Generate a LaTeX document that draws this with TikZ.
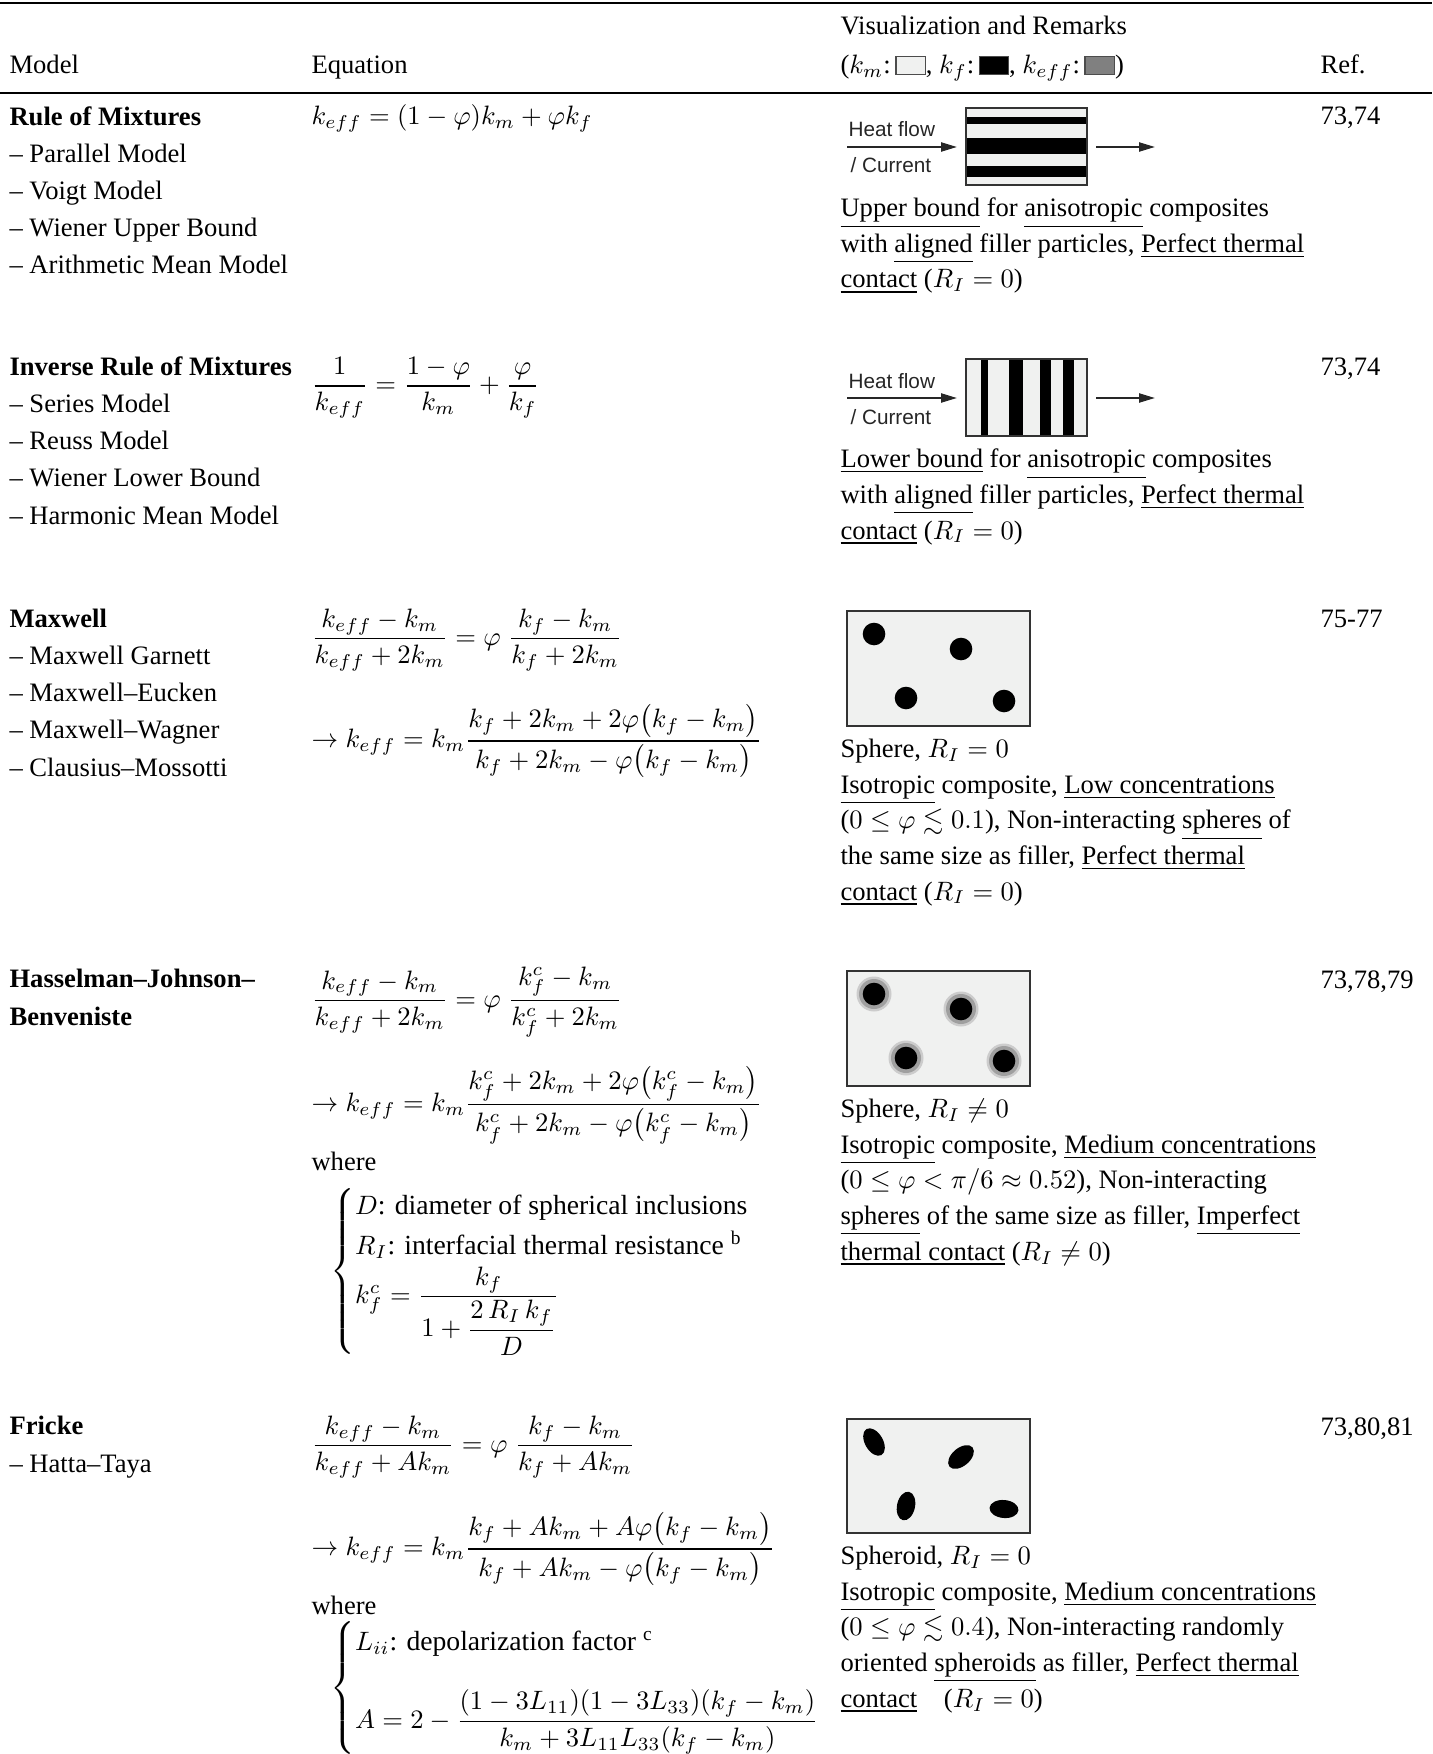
\documentclass[tikz,border=0pt]{standalone}
\usepackage{amsmath}
\usepackage{amssymb}
\usepackage{fontspec}
\setmainfont{Liberation Serif}
\setsansfont{Liberation Sans}
\usepackage{xcolor}
\usetikzlibrary{arrows.meta,positioning}
\definecolor{matrixgray}{HTML}{F0F1F0}
\definecolor{effgray}{HTML}{808080}
\definecolor{framegray}{HTML}{333333}
\newcommand{\keybox}[1]{{\setlength{\fboxsep}{0pt}\setlength{\fboxrule}{0.5pt}\fcolorbox{black!70}{#1}{\rule{0pt}{6.4pt}\rule{10.5pt}{0pt}}}}

\begin{document}
\begin{tikzpicture}[x=0.376pt,y=-0.376pt,
  txt/.style={anchor=base west,inner sep=0pt,font=\fontsize{10}{14}\selectfont},
  modeltxt/.style={txt,align=left},
  remtxt/.style={anchor=base west,inner sep=0pt,align=left,font=\fontsize{10}{13.4}\selectfont},
  eqline/.style={anchor=base west,inner sep=0pt,font=\fontsize{10.4}{12.5}\selectfont},
  eqn/.style={anchor=west,inner sep=0pt,font=\fontsize{10.4}{12.5}\selectfont},
  flowtxt/.style={anchor=base west,inner sep=0pt,font=\sffamily\fontsize{7.8}{9}\selectfont,text=black!85},
  flow/.style={line width=0.75pt,black!85,-{Triangle[length=6pt,width=3.4pt]}},
  matrixbox/.style={fill=matrixgray,draw=framegray,line width=0.6pt},
  tablerule/.style={line width=1.1pt}]
\useasboundingbox (0,0) rectangle (1432,1754);

% Tabellenlinien und Kopfzeile
\draw[tablerule] (0,3) -- (1432,3);
\draw[tablerule] (0,93) -- (1432,93);
\node[txt] (hmodel) at (9,74) {Model};
\node[txt] (heq) at (311,74) {Equation};
\node[txt] (hvis) at (840,35) {Visualization and Remarks};
\node[txt] (hkey) at (840,74) {($k_m$:\,\keybox{matrixgray},\ $k_f$:\,\keybox{black},\ $k_{eff}$:\,\keybox{effgray})};
\node[txt] (href) at (1320,74) {Ref.};

% Rule of Mixtures (mehrzeilige Knoten: base = letzte Zeile)
\node[modeltxt] (rom) at (9,274) {\textbf{Rule of Mixtures}\\-- Parallel Model\\-- Voigt Model\\-- Wiener Upper Bound\\-- Arithmetic Mean Model};
\node[eqline] (eqrom) at (311,125) {$k_{eff} = (1-\varphi)k_m + \varphi k_f$};
\draw[matrixbox] (966,108) rectangle (1087,185);
\foreach \ya/\yb in {117/124,138/154,166/177}
  \fill[black] (966,\ya) rectangle (1087,\yb);
\draw[framegray,line width=0.6pt] (966,108) rectangle (1087,185);
\node[flowtxt] (hfa) at (848,137) {Heat flow};
\node[flowtxt] (cura) at (850,173) {/ Current};
\coordinate (ina) at (847,147);
\coordinate (inaend) at (957,147);
\coordinate (outa) at (1096,147);
\coordinate (outaend) at (1155,147);
\draw[flow] (ina) -- (inaend);
\draw[flow] (outa) -- (outaend);
\node[remtxt] (remrom) at (840,288) {\underline{Upper bound} for \underline{anisotropic} composites\\with \underline{aligned} filler particles, \underline{Perfect thermal}\\\underline{contact} ($R_I = 0$)};
\node[txt] (refrom) at (1320,125) {73,74};

% Inverse Rule of Mixtures
\node[modeltxt] (irom) at (9,524) {\textbf{Inverse Rule of Mixtures}\\-- Series Model\\-- Reuss Model\\-- Wiener Lower Bound\\-- Harmonic Mean Model};
\node[eqn] (eqirom) at (311,388) {$\dfrac{1}{k_{eff}} = \dfrac{1-\varphi}{k_m} + \dfrac{\varphi}{k_f}$};
\draw[matrixbox] (966,359) rectangle (1087,436);
\foreach \xa/\xb in {981/988,1009/1023,1040/1051,1063/1074}
  \fill[black] (\xa,359) rectangle (\xb,436);
\draw[framegray,line width=0.6pt] (966,359) rectangle (1087,436);
\node[flowtxt] (hfb) at (848,388) {Heat flow};
\node[flowtxt] (curb) at (850,424) {/ Current};
\coordinate (inb) at (847,398);
\coordinate (inbend) at (957,398);
\coordinate (outb) at (1096,398);
\coordinate (outbend) at (1155,398);
\draw[flow] (inb) -- (inbend);
\draw[flow] (outb) -- (outbend);
\node[remtxt] (remirom) at (840,539) {\underline{Lower bound} for \underline{anisotropic} composites\\with \underline{aligned} filler particles, \underline{Perfect thermal}\\\underline{contact} ($R_I = 0$)};
\node[txt] (refirom) at (1320,375) {73,74};

% Maxwell
\node[modeltxt] (mw) at (9,776) {\textbf{Maxwell}\\-- Maxwell Garnett\\-- Maxwell--Eucken\\-- Maxwell--Wagner\\-- Clausius--Mossotti};
\node[eqn] (eqmwa) at (311,640) {$\dfrac{k_{eff}-k_m}{k_{eff}+2k_m} = \varphi\;\dfrac{k_f-k_m}{k_f+2k_m}$};
\node[eqn] (eqmwb) at (311,741) {$\rightarrow k_{eff} = k_m\dfrac{k_f+2k_m+2\varphi\bigl(k_f-k_m\bigr)}{k_f+2k_m-\varphi\bigl(k_f-k_m\bigr)}$};
\draw[matrixbox] (847,611) rectangle (1030,726);
\foreach \cx/\cy in {874/634,961/649,906/698,1004/701}
  \fill[black] (\cx,\cy) circle[radius=11.3];
\node[remtxt] (remmw) at (840,900) {Sphere, $R_I = 0$\\\underline{Isotropic} composite, \underline{Low concentrations}\\($0 \le \varphi \lesssim 0.1$), Non-interacting \underline{spheres} of\\the same size as filler, \underline{Perfect thermal}\\\underline{contact} ($R_I = 0$)};
\node[txt] (refmw) at (1320,627) {75-77};

% Hasselman-Johnson-Benveniste
\node[modeltxt] (hjb) at (9,1025) {\textbf{Hasselman--Johnson--}\\\textbf{Benveniste}};
\node[eqn] (eqhjba) at (311,1002) {$\dfrac{k_{eff}-k_m}{k_{eff}+2k_m} = \varphi\;\dfrac{k_f^c-k_m}{k_f^c+2k_m}$};
\node[eqn] (eqhjbb) at (311,1105) {$\rightarrow k_{eff} = k_m\dfrac{k_f^c+2k_m+2\varphi\bigl(k_f^c-k_m\bigr)}{k_f^c+2k_m-\varphi\bigl(k_f^c-k_m\bigr)}$};
\node[txt] (wherehjb) at (311,1170) {where};
\node[eqn] (caseshjb) at (330,1271) {$\begin{cases} D\text{: diameter of spherical inclusions}\\ R_I\text{: interfacial thermal resistance}\ ^{\mathrm{b}}\\ k_f^c = \dfrac{k_f}{1+\dfrac{2\,R_I\,k_f}{D}}\end{cases}$};
\draw[matrixbox] (847,971) rectangle (1030,1086);
\foreach \cx/\cy in {874/994,961/1009,906/1058,1004/1061}{
  \fill[gray!40] (\cx,\cy) circle[radius=17.5];
  \fill[gray!75] (\cx,\cy) circle[radius=15];
  \fill[black] (\cx,\cy) circle[radius=11.3];
}
\node[remtxt] (remhjb) at (840,1260) {Sphere, $R_I \neq 0$\\\underline{Isotropic} composite, \underline{Medium concentrations}\\($0 \le \varphi < \pi/6 \approx 0.52$), Non-interacting\\\underline{spheres} of the same size as filler, \underline{Imperfect}\\\underline{thermal contact} ($R_I \neq 0$)};
\node[txt] (refhjb) at (1320,988) {73,78,79};

% Fricke
\node[modeltxt] (fr) at (9,1472) {\textbf{Fricke}\\-- Hatta--Taya};
\node[eqn] (eqfra) at (311,1447) {$\dfrac{k_{eff}-k_m}{k_{eff}+Ak_m} = \varphi\;\dfrac{k_f-k_m}{k_f+Ak_m}$};
\node[eqn] (eqfrb) at (311,1549) {$\rightarrow k_{eff} = k_m\dfrac{k_f+Ak_m+A\varphi\bigl(k_f-k_m\bigr)}{k_f+Ak_m-\varphi\bigl(k_f-k_m\bigr)}$};
\node[txt] (wherefr) at (311,1614) {where};
\node[eqn] (casesfr) at (330,1688) {$\begin{cases} L_{ii}\text{: depolarization factor}\ ^{\mathrm{c}}\\[2.2ex] A = 2 - \dfrac{(1-3L_{11})(1-3L_{33})(k_f-k_m)}{k_m+3L_{11}L_{33}(k_f-k_m)}\end{cases}$};
\draw[matrixbox] (847,1419) rectangle (1030,1533);
\foreach \cx/\cy/\rot/\ra in {874/1442/-60/15,961/1457/40/15,906/1506/78/14.5,1004/1509/-5/14.5}
  \fill[black,rotate around={\rot:(\cx,\cy)}] (\cx,\cy) ellipse[x radius=\ra,y radius=9];
\node[remtxt] (remfr) at (840,1707) {Spheroid, $R_I = 0$\\\underline{Isotropic} composite, \underline{Medium concentrations}\\($0 \le \varphi \lesssim 0.4$), Non-interacting randomly\\oriented \underline{spheroids} as filler, \underline{Perfect thermal}\\\underline{contact}\quad ($R_I = 0$)};
\node[txt] (reffr) at (1320,1435) {73,80,81};
\end{tikzpicture}
\end{document}
